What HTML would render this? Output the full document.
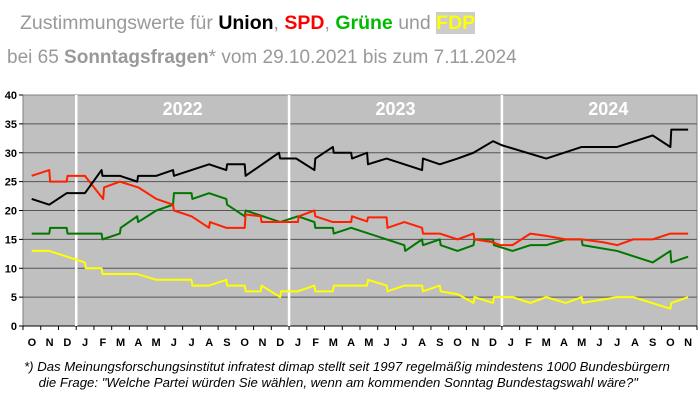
<!DOCTYPE html>
<html><head><meta charset="utf-8"><style>
body{margin:0;background:#fff;width:700px;height:404px;overflow:hidden;font-family:"Liberation Sans",sans-serif}
.t{position:absolute;white-space:nowrap;color:#999;font-size:22px}
b{font-weight:bold}
</style></head><body>
<div class="t" style="left:20px;top:12px;font-size:19.5px"><span>Zustimmungswerte für </span><b style="color:#000">Union</b>, <b style="color:#f00">SPD</b>, <b style="color:#0b0">Grüne</b> und <b style="color:#ff0;background:#ccc">FDP</b></div>
<div class="t" style="left:7px;top:47px;font-size:19px">bei 65 <b>Sonntagsfragen</b>* vom 29.10.2021 bis zum 7.11.2024</div>
<svg id="c" width="700" height="404" style="position:absolute;left:0;top:0"></svg>
<div class="t" style="left:24px;top:359px;font-size:13.2px;font-style:italic;color:#000;line-height:16px">*) Das Meinungsforschungsinstitut infratest dimap stellt seit 1997 regelmäßig mindestens 1000 Bundesbürgern<br>&nbsp;&nbsp;&nbsp;&nbsp;die Frage: "Welche Partei würden Sie wählen, wenn am kommenden Sonntag Bundestagswahl wäre?"</div>
<script>
const months=["O","N","D","J","F","M","A","M","J","J","A","S","O","N","D","J","F","M","A","M","J","J","A","S","O","N","D","J","F","M","A","M","J","J","A","S","O","N"];
const yTicks=[0,5,10,15,20,25,30,35,40];
const years=["2022","2023","2024"];
const yearStart=[3,15,27];
const unionT=[0.49,1.48,2.46,3.49,4.43,4.48,5.46,6.44,6.49,7.52,8.46,8.51,9.5,10.49,11.46,11.51,12.5,12.55,14.43,14.5,15.4,16.43,16.48,17.47,17.52,18.5,18.55,19.4,19.45,20.5,21.5,22.5,22.55,23.5,24.5,25.4,26.5,27.0,29.5,31.5,33.5,35.5,36.5,36.55,37.5];
const unionV=[22,21,23,23,27,26,26,25,26,26,27,26,27,28,27,28,28,26,30,29,29,27,29,31,30,30,29,30,28,29,28,27,29,28,29,30,32,31.3,29,31,31,33,31,34,34];
const spdT=[0.49,1.48,1.53,2.46,2.51,3.49,4.52,4.57,5.46,6.5,7.52,8.46,8.51,9.5,10.49,10.54,11.46,12.5,12.55,13.4,13.45,14.5,15.5,15.55,16.43,16.48,17.47,18.5,18.55,19.4,19.45,20.5,20.55,21.5,22.5,22.55,23.5,24.5,25.4,25.45,26.5,26.9,27.6,28.6,29.5,30.6,31.5,32.7,33.5,34.4,35.5,36.5,37.5];
const spdV=[26,27,25,25,26,26,22,24,25,24,22,21,20,19,17,18,17,17,19.3,19,18,18,18,19,20,19,18,18,19,18.1,18.8,18.8,17,18,17,16,16,15,16,15,14.5,14,14,16,15.6,15,15,14.5,14,15,15,16,16];
const grueneT=[0.49,1.48,1.53,2.46,2.51,4.43,4.48,5.46,5.51,6.44,6.49,7.52,8.46,8.51,9.5,9.55,10.49,11.46,11.51,12.5,12.55,14.5,15.5,16.43,16.48,17.47,17.52,18.5,21.5,21.55,22.5,22.55,23.5,23.55,24.5,25.4,25.45,26.5,26.55,27.6,28.6,29.5,30.6,31.5,31.55,33.5,35.5,36.5,36.55,37.5];
const grueneV=[16,16,17,17,16,16,15,16,17,19,18,20,21,23,23,22,23,22,21,19,20,18,19,18,17,17,16,17,14,13,15,14,15,14,13,14,15,15,14,13,14,14,15,15,14,13,11,13,11,12];
const fdpT=[0.49,1.48,3.49,3.54,4.43,4.48,6.44,7.52,9.5,9.55,10.49,11.46,11.51,12.5,12.55,13.4,13.45,14.5,14.55,15.5,16.43,16.48,17.47,17.52,19.4,19.45,20.5,20.55,21.5,22.5,22.55,23.5,23.55,24.5,25.4,25.45,26.5,26.55,27.6,28.6,29.5,30.6,31.5,31.55,33.5,34.4,36.5,36.55,37.5];
const fdpV=[13,13,11,10,10,9,9,8,8,7,7,8,7,7,6,6,7,5,6,6,7,6,6,7,7,8,7,6,7,7,6,7,6,5.5,4,5,4,5,5,4,5,4,5,4,5,5,3,4,5];
const L=23,R=697,T=95,B=326,MW=(R-L)/months.length;
const x=t=>L+t*MW, y=v=>B-(v/40)*(B-T);
const svg=document.getElementById('c');
const NS='http://www.w3.org/2000/svg';
function mk(tag,a){const e=document.createElementNS(NS,tag);for(const k in a)e.setAttribute(k,a[k]);svg.appendChild(e);return e;}
let e=mk('rect',{x:L,y:T,width:R-L,height:B-T,fill:'#c0c0c0',stroke:'#808080'});


yTicks.forEach(v=>{
 if(v>0&&v<40){const g=mk('line',{x1:L,x2:R,y1:y(v),y2:y(v),stroke:'#555','stroke-width':1});
 
 }
 const tx=mk('text',{x:17,y:y(v)+4,'text-anchor':'end','font-size':11,'font-weight':'bold','font-family':'Liberation Sans, sans-serif'});
 tx.textContent=v;
 
 
 mk('line',{x1:L-4,x2:L,y1:y(v),y2:y(v),stroke:'#000'});
});
mk('line',{x1:L,x2:R,y1:B,y2:B,stroke:'#000'});
months.forEach((m,i)=>{
 mk('line',{x1:x(i),x2:x(i),y1:B,y2:B+4,stroke:'#000'});
 const tx=mk('text',{x:x(i+0.5),y:B+20,'text-anchor':'middle','font-size':11,'font-weight':'bold','font-family':'Liberation Sans, sans-serif'});
 tx.textContent=m;
 
 
});
mk('line',{x1:R,x2:R,y1:B,y2:B+4,stroke:'#000'});
years.forEach((yr,i)=>{
 const l=mk('line',{x1:x(yearStart[i]),x2:x(yearStart[i]),y1:T,y2:B,stroke:'#fff','stroke-width':2.5});
 
 
 const tx=mk('text',{x:x(yearStart[i]+6),y:T+20,'text-anchor':'middle','font-size':18,'font-weight':'bold',fill:'#fff','font-family':'Liberation Sans, sans-serif'});
 tx.textContent=yr;
 
 
});
[[fdpT,fdpV,'#ffff00','fdp-line'],[grueneT,grueneV,'#007700','gruene-line'],[spdT,spdV,'#ff2000','spd-line'],[unionT,unionV,'#000','union-line']].forEach(s=>{
 const p=mk('polyline',{points:s[0].map((t,i)=>x(t)+','+y(s[1][i])).join(' '),fill:'none',stroke:s[2],'stroke-width':2,'stroke-linejoin':'round'});
 
 
});
</script>
</body></html>
